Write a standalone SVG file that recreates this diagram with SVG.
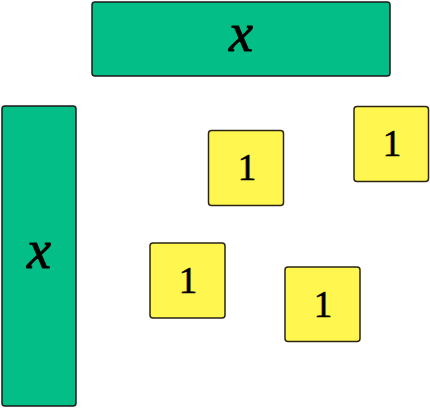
<svg xmlns="http://www.w3.org/2000/svg" width="430" height="408" viewBox="0 0 430 408">
<style>
.g{fill:#03bf87;stroke:#1a1a1a;stroke-width:1.5}
.y{fill:#fff64f;stroke:#2a2515;stroke-width:1.5}
.vx{font-family:"Liberation Serif",serif;font-style:italic;font-size:54px;fill:#000;stroke:#000;stroke-width:1;text-anchor:middle}
.one{font-family:"Liberation Serif",serif;font-size:37px;fill:#000;stroke:#000;stroke-width:0.6;text-anchor:middle}
</style>
<rect width="430" height="408" fill="#fff"/>
<g id="top-x"><rect class="g" x="92" y="2" width="298" height="74" rx="3"/><text class="vx" x="241" y="51">x</text></g>
<g id="left-x"><rect class="g" x="2" y="106" width="74" height="300" rx="3"/><text class="vx" x="39" y="268">x</text></g>
<g id="one-a"><rect class="y" x="208.5" y="130.5" width="75" height="75" rx="3"/><text class="one" x="247" y="180">1</text></g>
<g id="one-b"><rect class="y" x="354" y="106.5" width="74.5" height="75" rx="3"/><text class="one" x="392" y="156">1</text></g>
<g id="one-c"><rect class="y" x="150" y="243" width="75" height="75" rx="3"/><text class="one" x="188" y="293">1</text></g>
<g id="one-d"><rect class="y" x="285" y="267" width="75" height="74.5" rx="3"/><text class="one" x="323" y="317">1</text></g>
<g id="connectors"></g>
</svg>
